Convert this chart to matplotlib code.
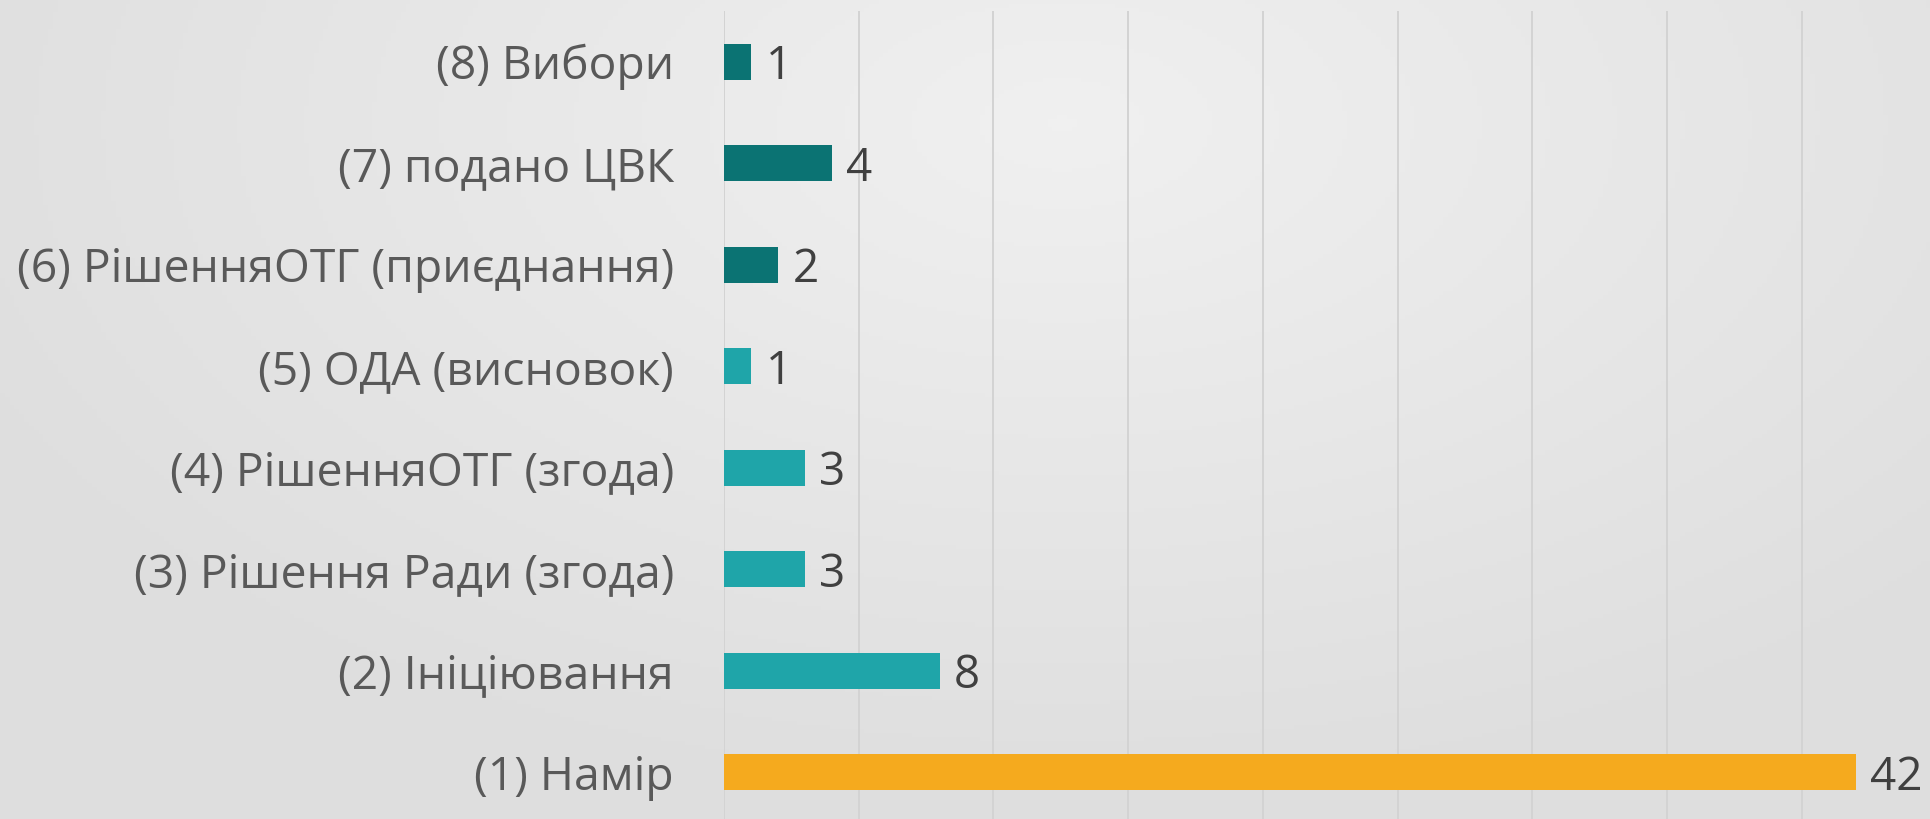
import numpy as np
import matplotlib
matplotlib.use("Agg")
import matplotlib.pyplot as plt

plt.rcParams["font.family"] = ["Open Sans", "DejaVu Sans"]

# stages, bottom to top
stages = [
    "(1) Намір",
    "(2) Ініціювання",
    "(3) Рішення Ради (згода)",
    "(4) РішенняОТГ (згода)",
    "(5) ОДА (висновок)",
    "(6) РішенняОТГ (приєднання)",
    "(7) подано ЦВК",
    "(8) Вибори",
]
counts = [42, 8, 3, 3, 1, 2, 4, 1]
bar_colors = ["#F5AA1E", "#1FA5A9", "#1FA5A9", "#1FA5A9", "#1FA5A9",
              "#0B7373", "#0B7373", "#0B7373"]

fig = plt.figure(figsize=(19.31, 8.19), dpi=100)

# soft gray gradient background
bg = fig.add_axes([0, 0, 1, 1])
bg.set_axis_off()
yy, xx = np.mgrid[0:1:200j, 0:1:400j]
r = np.sqrt(((xx - 0.55) * 1.6) ** 2 + ((yy - 0.15) * 1.2) ** 2)
shade = 0.942 - 0.07 * np.clip(r, 0, 1)
bg.imshow(np.dstack([shade] * 3), extent=[0, 1, 0, 1], aspect="auto", zorder=0)
bg.set_xlim(0, 1)
bg.set_ylim(0, 1)

ax = fig.add_axes([724 / 1931, -4 / 819, 1 - 724 / 1931, 812 / 819])
ax.patch.set_alpha(0)
y = np.arange(len(stages))
ax.barh(y, counts, height=0.355, color=bar_colors, zorder=3)

ax.set_xlim(0, 44.8)
ax.set_ylim(-0.5, 7.5)
ax.set_xticks(range(0, 45, 5))
ax.xaxis.grid(True, color="#D3D3D3", linewidth=1.4)
ax.set_axisbelow(True)
ax.tick_params(axis="x", length=0, labelbottom=False)
ax.tick_params(axis="y", length=0, pad=36)
ax.set_yticks(y)
ax.set_yticklabels(stages, fontsize=33.3, color="#595959")
for lbl in ax.get_yticklabels():
    lbl.set_verticalalignment("center_baseline")
for s in ax.spines.values():
    s.set_visible(False)

for yi, v in zip(y, counts):
    ax.annotate(str(v), (v, yi), xytext=(10.5, 0), textcoords="offset points",
                va="center_baseline", ha="left", fontsize=33, color="#404040")

fig.savefig("out.png", dpi=100)
